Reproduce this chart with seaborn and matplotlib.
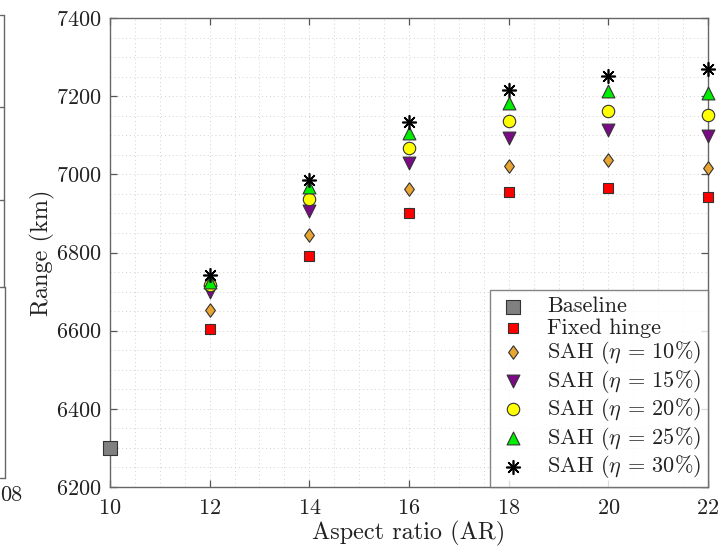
import numpy as np
import pandas as pd
import matplotlib
matplotlib.use("Agg")
import matplotlib.pyplot as plt
from matplotlib.lines import Line2D
from matplotlib.ticker import MultipleLocator
import seaborn as sns

# Aspect ratios studied and the baseline aircraft
aspect_ratio = [12, 14, 16, 18, 20, 22]
baseline_ar = [10]
baseline_range = [6300]

# Range (km) for each hinge configuration
fixed_hinge = [6605, 6790, 6900, 6954, 6966, 6942]
sah_10 = [6654, 6846, 6962, 7022, 7037, 7015]
sah_15 = [6699, 6906, 7028, 7093, 7114, 7097]
sah_20 = [6718, 6938, 7067, 7136, 7161, 7151]
sah_25 = [6725, 6967, 7106, 7183, 7213, 7209]
sah_30 = [6742, 6985, 7133, 7215, 7251, 7269]

x_ticks = [10, 12, 14, 16, 18, 20, 22]
y_ticks = [6200, 6400, 6600, 6800, 7000, 7200, 7400]

sns.set_theme(style="white")
plt.rcParams["font.family"] = ["cmr10", "DejaVu Serif"]
plt.rcParams["mathtext.fontset"] = "cm"
plt.rcParams["axes.formatter.use_mathtext"] = True
plt.rcParams["axes.unicode_minus"] = False

fig = plt.figure(figsize=(7.24, 5.48), dpi=100)
ax = fig.add_axes([110 / 724, 1 - 487 / 548, 598 / 724, 469 / 548])

diamond = [(0, 1), (0.72, 0), (0, -1), (-0.72, 0), (0, 1)]
edge = "#333333"

series = [
    (baseline_ar, baseline_range, "Baseline", "s", "#808080", 105),
    (aspect_ratio, fixed_hinge, "Fixed hinge", "s", "#ff0000", 55),
    (aspect_ratio, sah_10, r"SAH ($\eta$ = 10%)", diamond, "#e8a531", 95),
    (aspect_ratio, sah_15, r"SAH ($\eta$ = 15%)", "v", "#7b0a86", 85),
    (aspect_ratio, sah_20, r"SAH ($\eta$ = 20%)", "o", "#ffff00", 80),
    (aspect_ratio, sah_25, r"SAH ($\eta$ = 25%)", "^", "#00ee00", 85),
]

for xs, ys, label, marker, color, size in series:
    sns.scatterplot(x=xs, y=ys, marker=marker, color=color, s=size,
                    edgecolor=edge, linewidth=0.8, label=label, ax=ax,
                    zorder=3, clip_on=False)

# Asterisk marker (line art) for the largest hinge fraction
sns.scatterplot(x=aspect_ratio, y=sah_30, marker=(8, 2, 0), color="black",
                s=95, linewidth=1.2, label=r"SAH ($\eta$ = 30%)", ax=ax,
                zorder=4, clip_on=False)

ax.set_xlim(10, 22)
ax.set_ylim(6200, 7400)
ax.set_xticks(x_ticks)
ax.set_yticks(y_ticks)
ax.xaxis.set_minor_locator(MultipleLocator(0.5))
ax.yaxis.set_minor_locator(MultipleLocator(50))
ax.grid(True, which="both", linestyle=(0, (1, 3)), color="#d2d2d2",
        linewidth=0.7, zorder=0)
ax.set_axisbelow(True)

ax.tick_params(which="major", direction="in", length=5, width=0.9,
               colors="#555555", labelcolor="#222222", labelsize=16,
               top=True, right=True, bottom=True, left=True, pad=6)
ax.tick_params(axis="x", which="major", pad=8)
ax.tick_params(which="minor", length=0, top=True, right=True)
for sp in ax.spines.values():
    sp.set_color("#666666")
    sp.set_linewidth(1.0)

ax.set_xlabel("Aspect ratio (AR)", fontsize=17.5, color="#222222", labelpad=2)
ax.set_ylabel("Range (km)", fontsize=17.5, color="#222222", labelpad=1)

leg = ax.legend(loc="lower right", borderaxespad=0, fontsize=16,
                frameon=True, fancybox=False, edgecolor="#666666",
                handletextpad=0.8, labelspacing=0.07, borderpad=0.3,
                handlelength=1.5)
leg.get_frame().set_linewidth(1.0)
for t in leg.get_texts():
    t.set_color("#222222")

# Edge of the neighbouring panel on the left
def fig_line(xs, ys):
    fig.add_artist(Line2D([x / 724 for x in xs], [1 - y / 548 for y in ys],
                          color="#666666", linewidth=1.0))

fig_line([4, 4], [15, 287])
fig_line([5, 5], [287, 478])
fig_line([0, 4], [15, 15])
fig_line([0, 4], [107, 107])
fig_line([0, 4], [200, 200])
fig_line([0, 5], [287, 287])
fig_line([0, 5], [478, 478])
fig.text(0 / 724, 1 - 495 / 548, "08", fontsize=16, color="#222222",
         ha="left", va="center")

fig.savefig("out.png", dpi=100)
